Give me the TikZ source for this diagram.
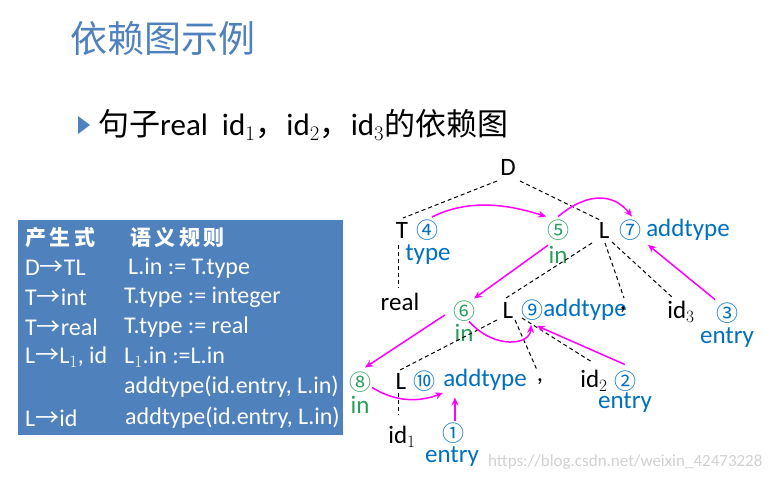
\documentclass[tikz,border=0pt]{standalone}
\usepackage{fontspec}
\usetikzlibrary{calc,arrows.meta}
\setmainfont{Carlito}
\newfontfamily\cjk{Noto Sans CJK SC}
\definecolor{tblue}{RGB}{0,112,192}
\definecolor{tgreen}{RGB}{40,160,90}
\definecolor{boxb}{RGB}{79,129,189}
\definecolor{titleb}{RGB}{79,129,189}
\begin{document}
\begin{tikzpicture}[x=1pt,y=-1pt,
  every node/.style={inner sep=0pt,font=\fontsize{25}{27}\selectfont},
  bk/.style={text=black},
  bl/.style={text=tblue},
  gr/.style={text=tgreen},
  cn/.style={font=\cjk\fontsize{22}{24}\selectfont},
  dl/.style={dashed,line width=1pt,dash pattern=on 4pt off 3pt},
  ar/.style={-{Stealth[length=8pt,width=7pt]},draw={rgb,255:red,255;green,0;blue,255},line width=1.5pt},
  rw/.style={anchor=west,text=white,font=\fontsize{24}{26}\selectfont}]
\useasboundingbox (0,0) rectangle (769,482);
% title
\node[anchor=west,text=titleb,font=\cjk\fontsize{37}{40}\selectfont] (title) at (70,38) {依赖图示例};
\fill[titleb] (78,116) -- (90,125) -- (78,134) -- cycle;
\node[anchor=west,font=\fontsize{31}{33}\selectfont] (sent) at (98,125) {{\cjk 句子}real\ \ id$_1${\cjk ，}id$_2${\cjk ，}id$_3${\cjk 的依赖图}};
% box
\fill[boxb] (18,220) rectangle (343,435);
\node[rw,font=\cjk\bfseries\fontsize{21}{23}\selectfont] (h1) at (25,238) {产\,生\,式};
\node[rw,font=\cjk\bfseries\fontsize{21}{23}\selectfont] (h2) at (130,238) {语\,义\,规\,则};
\node[rw] (p1) at (25,268) {D{\cjk →}TL};
\node[rw] (s1) at (128,268) {L.in := T.type};
\node[rw] (p2) at (25,297) {T{\cjk →}int};
\node[rw] (s2) at (124,297) {T.type := integer};
\node[rw] (p3) at (25,327) {T{\cjk →}real};
\node[rw] (s3) at (124,327) {T.type := real};
\node[rw] (p4) at (25,357) {L{\cjk →}L$_1$, id};
\node[rw] (s4) at (124,357) {L$_1$.in :=L.in};
\node[rw] (s5) at (124,387) {addtype(id.entry, L.in)};
\node[rw] (p6) at (25,418) {L{\cjk →}id};
\node[rw] (s6) at (125,418) {addtype(id.entry, L.in)};
% tree nodes
\node (D) at (508,167) {D};
\node (T) at (402,230) {T};
\node[bl,cn] (c4) at (427,230) {④};
\node[bl] (type) at (428,255) {type};
\node (real) at (400,302) {real};
\node[gr,cn] (c5) at (558,230) {⑤};
\node[gr] (in5) at (558,255) {in};
\node (L1) at (604,230) {L};
\node[bl,cn] (c7) at (630,230) {⑦};
\node[bl] (ad7) at (688,230) {addtype};
\node[gr,cn] (c6) at (464,311) {⑥};
\node[gr] (in6) at (464,333) {in};
\node (L2) at (508,310) {L};
\node[bl,cn] (c9) at (532,310) {⑨};
\node[bl] (ad9) at (585,310) {addtype};
\node (cm1) at (623,310) {,};
\node (id3) at (681,312) {id$_3$};
\node[bl,cn] (c3) at (727,313) {③};
\node[bl] (en3) at (727,338) {entry};
\node[gr,cn] (c8) at (360,382) {⑧};
\node[gr] (in8) at (360,405) {in};
\node (L3) at (401,381) {L};
\node[bl,cn] (c10) at (424,381) {⑩};
\node[bl] (ad10) at (485,380) {addtype};
\node (cm2) at (540,382) {,};
\node (id2) at (594,381) {id$_2$};
\node[bl,cn] (c2) at (625,381) {②};
\node[bl] (en2) at (625,403) {entry};
\node (id1) at (402,437) {id$_1$};
\node[bl,cn] (c1) at (453,433) {①};
\node[bl] (en1) at (452,457) {entry};
\node[anchor=west,text=black!18,font=\fontsize{17}{18}\selectfont] (wm) at (488,462) {https://blog.csdn.net/weixin\_42473228};
% dashed tree edges
\draw[dl] (497,181) -- (403,218);
\draw[dl] (520,181) -- (600,220);
\draw[dl] (398,245) -- (398,288);
\draw[dl] (592,243) -- (506,298);
\draw[dl] (605,243) -- (624,298);
\draw[dl] (612,242) -- (673,298);
\draw[dl] (497,320) -- (400,370);
\draw[dl] (515,320) -- (537,370);
\draw[dl] (522,318) -- (592,362);
\draw[dl] (398,393) -- (398,415);
% dependency arrows
\draw[ar] (c4) ++(5,-13) .. controls (470,198) and (510,205) .. ($(c5.north)+(-12,-3)$);
\draw[ar] ($(c5.north)+(0,-3)$) .. controls (590,190) and (615,195) .. ($(c7.north)+(2,-3)$);
\draw[ar] ($(c3.north)+(-12,-3)$) -- ($(ad7.south west)+(2,4)$);
\draw[ar] ($(in5.north)+(-10,-1)$) -- ($(c6.north)+(10,-2)$);
\draw[ar] ($(c6.south)+(5,0)$) .. controls (495,350) and (530,345) .. ($(ad9.south west)+(-12,4)$);
\draw[ar] ($(c2.north)+(0,-6)$) -- ($(ad9.south west)+(-6,5)$);
\draw[ar] ($(c6.west)+(-8,4)$) -- ($(c8.north)+(5,-4)$);
\draw[ar] ($(c8.south)+(12,-5)$) .. controls (400,405) and (425,400) .. ($(ad10.south west)+(0,2)$);
\draw[ar] ($(c1.north)+(2,-2)$) -- ($(c1.north)+(2,-25)$);
\end{tikzpicture}
\end{document}
